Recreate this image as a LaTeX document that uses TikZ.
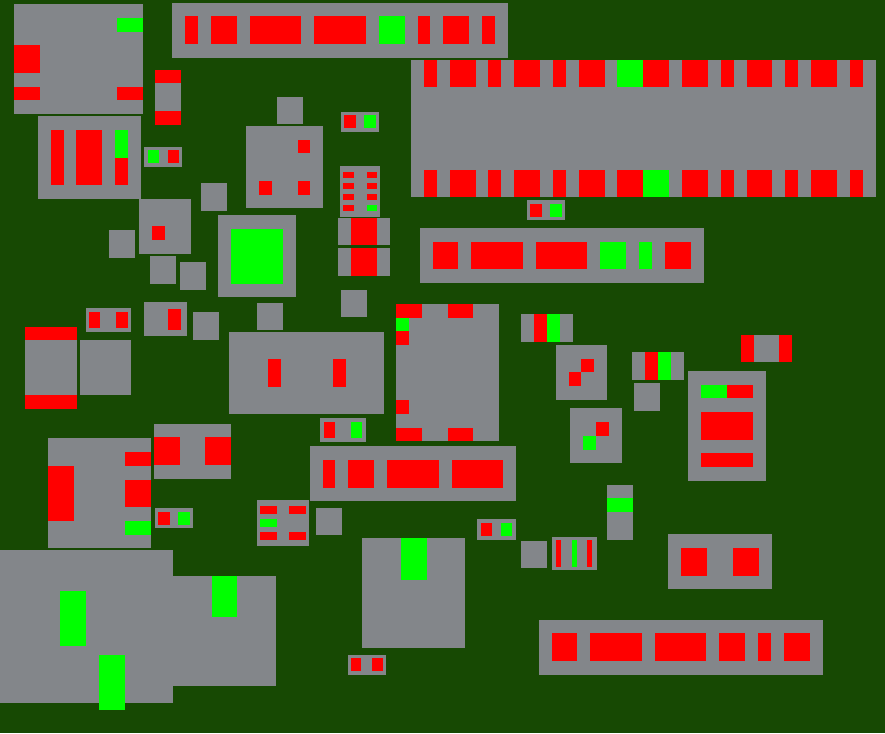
\documentclass[tikz,border=0pt]{standalone}
\definecolor{boardc}{RGB}{23,73,3}
\definecolor{bodyc}{RGB}{131,134,138}
\definecolor{padr}{RGB}{255,0,0}
\definecolor{padg}{RGB}{0,255,0}
\tikzset{bodyfill/.style={fill=bodyc},redpad/.style={fill=padr},greenpad/.style={fill=padg}}
\newcommand\pcbB[4]{\fill[bodyfill] (#1,#2) rectangle (#3,#4);}
\newcommand\pcbR[4]{\fill[redpad] (#1,#2) rectangle (#3,#4);}
\newcommand\pcbN[4]{\fill[greenpad] (#1,#2) rectangle (#3,#4);}
\begin{document}
\begin{tikzpicture}[x=1pt,y=-1pt]
\fill[boardc] (0,0) rectangle (885,733);
\useasboundingbox (0,0) rectangle (885,733);
% A
\pcbB{14}{4}{143}{114}
\pcbN{117}{18}{143}{32}
\pcbR{14}{45}{40}{73}
\pcbR{14}{87}{40}{100}
\pcbR{117}{87}{143}{100}
% B
\pcbB{172}{3}{508}{58}
\pcbR{185}{16}{198}{44}
\pcbR{211}{16}{237}{44}
\pcbR{250}{16}{301}{44}
\pcbR{314}{16}{366}{44}
\pcbN{379}{16}{405}{44}
\pcbR{418}{16}{430}{44}
\pcbR{443}{16}{469}{44}
\pcbR{482}{16}{495}{44}
% C
\pcbB{155}{70}{181}{125}
\pcbR{155}{70}{181}{83}
\pcbR{155}{111}{181}{125}
% G big
\pcbB{411}{60}{876}{197}
\foreach \a/\b in {424/437,450/476,488/501,514/540,553/566,579/605,682/708,721/734,747/772,785/798,811/837,850/863}{
  \pcbR{\a}{60}{\b}{87}
  \pcbR{\a}{170}{\b}{197}
}
\pcbN{617}{60}{643}{87}
\pcbR{643}{60}{669}{87}
\pcbR{617}{170}{643}{197}
\pcbN{643}{170}{669}{197}
% D
\pcbB{38}{116}{141}{199}
\pcbR{51}{130}{64}{185}
\pcbR{76}{130}{102}{185}
\pcbN{115}{130}{128}{158}
\pcbR{115}{158}{128}{185}
% E
\pcbB{144}{147}{182}{167}
\pcbN{148}{150}{159}{163}
\pcbR{168}{150}{179}{163}
% squares
\pcbB{277}{97}{303}{124}
\pcbB{201}{183}{227}{211}
% F
\pcbB{246}{126}{323}{208}
\pcbR{298}{140}{310}{153}
\pcbR{259}{181}{272}{195}
\pcbR{298}{181}{310}{195}
% H
\pcbB{341}{112}{379}{132}
\pcbR{344}{115}{356}{128}
\pcbN{364}{115}{376}{128}
% I
\pcbB{340}{166}{380}{217}
\foreach \y in {172,183,194}{
  \pcbR{343}{\y}{354}{\y+6}
  \pcbR{367}{\y}{377}{\y+6}
}
\pcbR{343}{205}{354}{211}
\pcbN{367}{205}{377}{211}
% J
\pcbB{139}{199}{191}{254}
\pcbR{152}{226}{165}{240}
\pcbB{109}{230}{135}{258}
\pcbB{150}{256}{176}{284}
\pcbB{180}{262}{206}{290}
% K
\pcbB{218}{215}{296}{297}
\pcbN{231}{229}{283}{284}
% P
\pcbB{338}{218}{390}{245}
\pcbR{351}{218}{377}{245}
\pcbB{338}{248}{390}{276}
\pcbR{351}{248}{377}{276}
\pcbB{341}{290}{367}{317}
\pcbB{257}{303}{283}{330}
% Q
\pcbB{527}{200}{565}{220}
\pcbR{530}{204}{542}{217}
\pcbN{550}{204}{562}{217}
% R
\pcbB{420}{228}{704}{283}
\pcbR{433}{242}{458}{269}
\pcbR{471}{242}{523}{269}
\pcbR{536}{242}{587}{269}
\pcbN{600}{242}{626}{269}
\pcbN{639}{242}{652}{269}
\pcbR{665}{242}{691}{269}
% L
\pcbB{86}{308}{131}{332}
\pcbR{89}{312}{100}{328}
\pcbR{116}{312}{128}{328}
% M
\pcbB{144}{302}{187}{336}
\pcbR{168}{309}{181}{330}
\pcbB{193}{312}{219}{340}
% N
\pcbB{25}{327}{77}{409}
\pcbR{25}{327}{77}{340}
\pcbR{25}{395}{77}{409}
\pcbB{80}{340}{131}{395}
% O
\pcbB{229}{332}{384}{414}
\pcbR{268}{359}{281}{387}
\pcbR{333}{359}{346}{387}
% S
\pcbB{396}{304}{499}{441}
\pcbR{396}{304}{422}{318}
\pcbR{448}{304}{473}{318}
\pcbN{396}{318}{409}{331}
\pcbR{396}{331}{409}{345}
\pcbR{396}{400}{409}{414}
\pcbR{396}{428}{422}{441}
\pcbR{448}{428}{473}{441}
% T
\pcbB{521}{314}{573}{342}
\pcbR{534}{314}{547}{342}
\pcbN{547}{314}{560}{342}
% U
\pcbB{556}{345}{607}{400}
\pcbR{581}{359}{594}{372}
\pcbR{569}{372}{581}{386}
% V
\pcbB{741}{335}{792}{362}
\pcbR{741}{335}{754}{362}
\pcbR{779}{335}{792}{362}
% W
\pcbB{632}{352}{684}{380}
\pcbR{645}{352}{658}{380}
\pcbN{658}{352}{671}{380}
\pcbB{634}{383}{660}{411}
% X
\pcbB{688}{371}{766}{481}
\pcbN{701}{385}{727}{398}
\pcbR{727}{385}{753}{398}
\pcbR{701}{412}{753}{440}
\pcbR{701}{453}{753}{467}
% Y
\pcbB{570}{408}{622}{463}
\pcbR{596}{422}{609}{436}
\pcbN{583}{436}{596}{450}
% Z
\pcbB{607}{485}{633}{540}
\pcbN{607}{498}{633}{512}
% AB
\pcbB{48}{438}{151}{548}
\pcbR{48}{466}{74}{521}
\pcbR{125}{452}{151}{466}
\pcbR{125}{480}{151}{507}
\pcbN{125}{521}{151}{535}
% AC
\pcbB{154}{424}{231}{479}
\pcbR{154}{437}{180}{465}
\pcbR{205}{437}{231}{465}
% AD
\pcbB{155}{508}{193}{528}
\pcbR{158}{512}{170}{525}
\pcbN{178}{512}{190}{525}
% AE
\pcbB{257}{500}{309}{546}
\pcbR{260}{506}{277}{514}
\pcbR{289}{506}{306}{514}
\pcbN{260}{519}{277}{527}
\pcbR{260}{532}{277}{540}
\pcbR{289}{532}{306}{540}
% AF
\pcbB{320}{418}{366}{442}
\pcbR{324}{422}{335}{438}
\pcbN{351}{422}{362}{438}
% AG
\pcbB{310}{446}{516}{501}
\pcbR{323}{460}{335}{488}
\pcbR{348}{460}{374}{488}
\pcbR{387}{460}{439}{488}
\pcbR{452}{460}{503}{488}
\pcbB{316}{508}{342}{535}
% AH
\pcbB{477}{519}{516}{540}
\pcbR{481}{523}{492}{536}
\pcbN{501}{523}{512}{536}
% AI
\pcbB{362}{538}{465}{648}
\pcbN{401}{538}{427}{580}
\pcbB{521}{541}{547}{568}
% AJ
\pcbB{552}{537}{597}{570}
\pcbR{556}{540}{561}{567}
\pcbN{572}{540}{577}{567}
\pcbR{587}{540}{592}{567}
% AK
\pcbB{348}{655}{386}{675}
\pcbR{351}{658}{361}{671}
\pcbR{372}{658}{383}{671}
% bottom right pair
\pcbB{668}{534}{772}{589}
\pcbR{681}{548}{707}{576}
\pcbR{733}{548}{759}{576}
% AA
\pcbB{539}{620}{823}{675}
\pcbR{552}{633}{577}{661}
\pcbR{590}{633}{642}{661}
\pcbR{655}{633}{706}{661}
\pcbR{719}{633}{745}{661}
\pcbR{758}{633}{771}{661}
\pcbR{784}{633}{810}{661}
% AL / AM
\pcbB{0}{550}{173}{703}
\pcbB{173}{576}{276}{686}
\pcbN{60}{591}{86}{646}
\pcbN{99}{655}{125}{710}
\pcbN{212}{576}{237}{617}
\end{tikzpicture}
\end{document}
